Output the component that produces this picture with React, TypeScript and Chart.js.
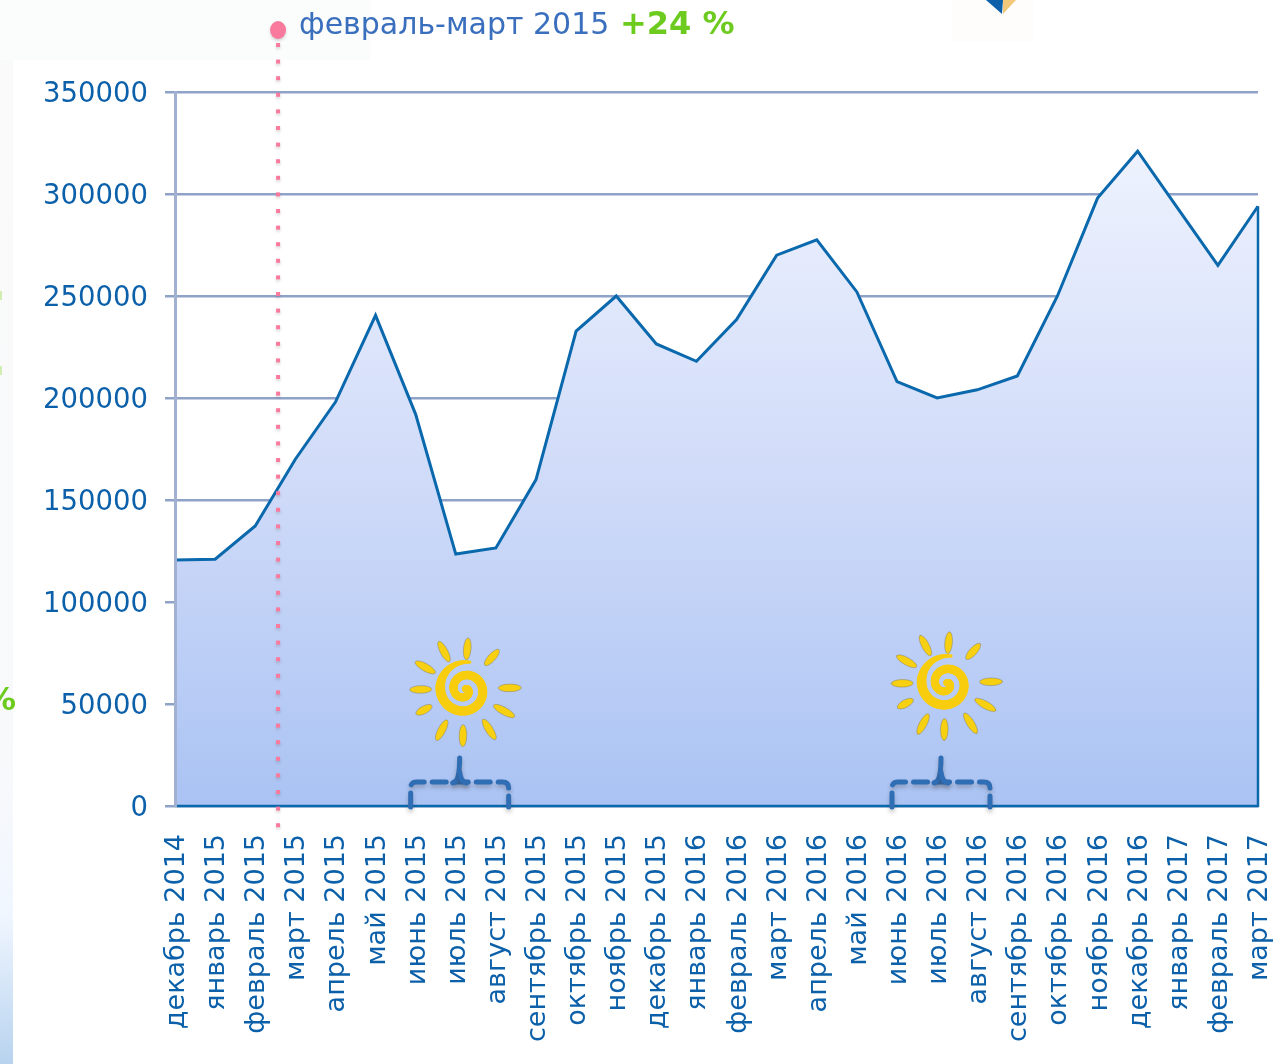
import React, { useEffect, useRef } from "react";
import { Chart, registerables } from "chart.js";

Chart.register(...registerables);

const months = [
  "декабрь 2014", "январь 2015", "февраль 2015", "март 2015", "апрель 2015", "май 2015", "июнь 2015",
  "июль 2015", "август 2015", "сентябрь 2015", "октябрь 2015", "ноябрь 2015", "декабрь 2015",
  "январь 2016", "февраль 2016", "март 2016", "апрель 2016", "май 2016", "июнь 2016", "июль 2016",
  "август 2016", "сентябрь 2016", "октябрь 2016", "ноябрь 2016", "декабрь 2016", "январь 2017",
  "февраль 2017", "март 2017",
];
const values = [
  120600, 121000, 137300, 170000, 198000, 240500, 192000, 123500, 126500, 160000, 232800, 250000,
  226500, 218000, 238500, 270000, 277500, 252000, 208000, 200000, 204000, 210800, 250000, 298000,
  321000, 293000, 265000, 294000,
];
const summerStart = [6, 18];
const sunValues = [57500, 60500];
const markerIndex = 2.57;
const noteLabel = "февраль-март 2015";
const noteGrowth = "+24 %";
const FONT = '"DejaVu Sans"';
const BLUE = "#0b60a9";

function drawSun(ctx: CanvasRenderingContext2D, cx: number, cy: number) {
  const rays: [number, number, number][] = [
    [-118, 42, 23], [-85, 40, 22], [-48, 42, 21], [-1, 46, 23], [29, 46, 24], [58, 48, 24],
    [91, 47, 22], [118, 47, 23], [152, 45, 18], [179, 43, 22], [-151, 44, 23],
  ];
  rays.forEach(([deg, dist, len]) => {
    const a = (deg * Math.PI) / 180;
    ctx.beginPath();
    ctx.ellipse(cx + Math.cos(a) * dist, cy + Math.sin(a) * dist, len / 2, 3.8, a, 0, Math.PI * 2);
    ctx.fillStyle = "#f8d012";
    ctx.fill();
    ctx.strokeStyle = "rgba(110,110,110,0.5)";
    ctx.lineWidth = 0.8;
    ctx.stroke();
  });
  const N = 120;
  const pts: [number, number, number][] = [];
  for (let i = 0; i <= N; i++) {
    const t = i / N;
    const a = ((-80 - t * 690) * Math.PI) / 180;
    const r = 27 * Math.pow(1 - t, 0.9) + 1;
    const w = t < 0.15 ? 3 + (t / 0.15) * 7 : 10 - 3 * t;
    pts.push([cx + 1 + Math.cos(a) * r, cy + 1 + Math.sin(a) * r, w]);
  }
  ctx.lineCap = "round";
  ctx.strokeStyle = "#f8cd0e";
  for (let i = 1; i < pts.length; i++) {
    ctx.beginPath();
    ctx.moveTo(pts[i - 1][0], pts[i - 1][1]);
    ctx.lineTo(pts[i][0], pts[i][1]);
    ctx.lineWidth = pts[i][2];
    ctx.stroke();
  }
}

function drawBracket(ctx: CanvasRenderingContext2D, x: number, bottom: number) {
  const w = 98;
  const top = bottom - 24;
  ctx.save();
  ctx.strokeStyle = "#2f6db5";
  ctx.lineWidth = 5;
  ctx.shadowColor = "rgba(60,60,60,0.3)";
  ctx.shadowBlur = 4;
  ctx.shadowOffsetY = 3;
  ctx.setLineDash([14, 8]);
  ctx.beginPath();
  ctx.moveTo(x, bottom + 1);
  ctx.lineTo(x, top + 6);
  ctx.quadraticCurveTo(x, top, x + 6, top);
  ctx.lineTo(x + w - 6, top);
  ctx.quadraticCurveTo(x + w, top, x + w, top + 6);
  ctx.lineTo(x + w, bottom + 1);
  ctx.stroke();
  ctx.setLineDash([]);
  ctx.beginPath();
  ctx.moveTo(x + 42, top + 1);
  ctx.quadraticCurveTo(x + 49, top, x + 49, top - 24);
  ctx.stroke();
  ctx.beginPath();
  ctx.moveTo(x + 56, top + 1);
  ctx.quadraticCurveTo(x + 50, top, x + 49, top - 10);
  ctx.stroke();
  ctx.restore();
}

const backdrop = {
  id: "backdrop",
  beforeDraw(chart: any) {
    const { ctx, width, height } = chart;
    ctx.save();
    ctx.fillStyle = "#ffffff";
    ctx.fillRect(0, 0, width, height);
    ctx.fillStyle = "#fbfcfc";
    ctx.fillRect(0, 0, 370, 60);
    const g = ctx.createLinearGradient(0, 0, 0, height);
    g.addColorStop(0, "#fafafa");
    g.addColorStop(0.72, "#f8f9fb");
    g.addColorStop(0.86, "#f0f6ff");
    g.addColorStop(1, "#b8d3ef");
    ctx.fillStyle = g;
    ctx.fillRect(0, 60, 13, height - 60);
    ctx.fillStyle = "#fefdfb";
    ctx.fillRect(952, 0, 82, 42);
    ctx.fillStyle = "#f3c878";
    ctx.beginPath();
    ctx.moveTo(1003, 14);
    ctx.lineTo(1016, 0);
    ctx.lineTo(1003, 0);
    ctx.fill();
    ctx.fillStyle = "#0c5fa8";
    ctx.beginPath();
    ctx.moveTo(1002, 14);
    ctx.lineTo(1003, 0);
    ctx.lineTo(986, 0);
    ctx.fill();
    ctx.fillStyle = "#6ccb1e";
    ctx.font = `bold 32px ${FONT}`;
    ctx.textAlign = "right";
    ctx.textBaseline = "middle";
    ctx.fillText("%", 16, 702);
    ctx.fillStyle = "#cfeeb0";
    ctx.fillRect(0, 291, 2, 9);
    ctx.fillRect(0, 366, 2, 9);
    ctx.restore();
  },
};

const overlay = {
  id: "overlay",
  afterDatasetsDraw(chart: any) {
    const { ctx, scales, chartArea } = chart;
    const x = scales.x;
    const y = scales.y;
    ctx.save();
    ctx.strokeStyle = "#0a68ad";
    ctx.lineWidth = 2.5;
    ctx.beginPath();
    ctx.moveTo(chartArea.left, chartArea.bottom);
    ctx.lineTo(chartArea.right, chartArea.bottom);
    ctx.lineTo(chartArea.right, y.getPixelForValue(values[values.length - 1]));
    ctx.stroke();

    summerStart.forEach((idx, i) => {
      const px = x.getPixelForValue(idx);
      drawSun(ctx, x.getPixelForValue(idx + 1) + 8, y.getPixelForValue(sunValues[i]));
      drawBracket(ctx, px - 5, chartArea.bottom);
    });

    const mx = x.getPixelForValue(markerIndex);
    ctx.save();
    ctx.fillStyle = "#f97a9c";
    ctx.shadowColor = "rgba(70,70,70,0.22)";
    ctx.shadowBlur = 3;
    ctx.shadowOffsetY = 2;
    for (let py = 45; py <= 826; py += 16.6) ctx.fillRect(mx - 2, py - 2, 4, 4);
    ctx.beginPath();
    ctx.ellipse(mx, 30, 8, 9, 0, 0, Math.PI * 2);
    ctx.fill();
    ctx.restore();

    ctx.textAlign = "left";
    ctx.textBaseline = "middle";
    ctx.fillStyle = "#3a6fbe";
    ctx.font = `30px ${FONT}`;
    ctx.fillText(noteLabel, 299, 26);
    ctx.fillStyle = "#6ccb1e";
    ctx.font = `bold 32px ${FONT}`;
    ctx.fillText(noteGrowth, 620, 26);
    ctx.restore();
  },
};

export default function App() {
  const ref = useRef<HTMLCanvasElement>(null);
  useEffect(() => {
    document.body.style.margin = "0";
    document.body.style.overflow = "hidden";
    const chart = new Chart(ref.current!, {
      type: "line",
      data: {
        labels: months,
        datasets: [
          {
            data: values,
            borderColor: "#0a68ad",
            borderWidth: 3,
            pointRadius: 0,
            tension: 0,
            fill: "origin",
            backgroundColor: (c: any) => {
              const g = c.chart.ctx.createLinearGradient(0, 140, 0, 806);
              g.addColorStop(0, "#eff3fe");
              g.addColorStop(0.55, "#cdd9f8");
              g.addColorStop(1, "#aac3f3");
              return g;
            },
          },
        ],
      },
      options: {
        responsive: false,
        animation: false,
        layout: { autoPadding: false, padding: { top: 92, right: 23, left: 0, bottom: 0 } },
        plugins: { legend: { display: false }, tooltip: { enabled: false } },
        scales: {
          x: {
            type: "category",
            offset: false,
            grid: { display: false, drawTicks: false },
            border: { display: false },
            afterFit: (s: any) => {
              s.height = 258;
              s.paddingLeft = 0;
              s.paddingRight = 0;
            },
            ticks: {
              autoSkip: false,
              minRotation: 90,
              maxRotation: 90,
              padding: 28,
              color: BLUE,
              labelOffset: 2,
              font: { family: FONT, size: 27 },
            },
          },
          y: {
            min: 0,
            max: 350000,
            afterFit: (s: any) => {
              s.width = 175;
              s.paddingTop = 0;
              s.paddingBottom = 0;
            },
            grid: { color: "#8fa2c8", lineWidth: 2.5, tickLength: 10 },
            border: { color: "#a2b0d2", width: 3, z: 1 },
            ticks: {
              stepSize: 50000,
              padding: 17,
              color: BLUE,
              labelOffset: 3,
              font: { family: FONT, size: 27.5 },
              callback: (v: any) => String(v),
            },
          },
        },
      },
      plugins: [backdrop, overlay],
    } as any);
    return () => chart.destroy();
  }, []);
  return <canvas ref={ref} width={1281} height={1064} style={{ display: "block" }} />;
}
